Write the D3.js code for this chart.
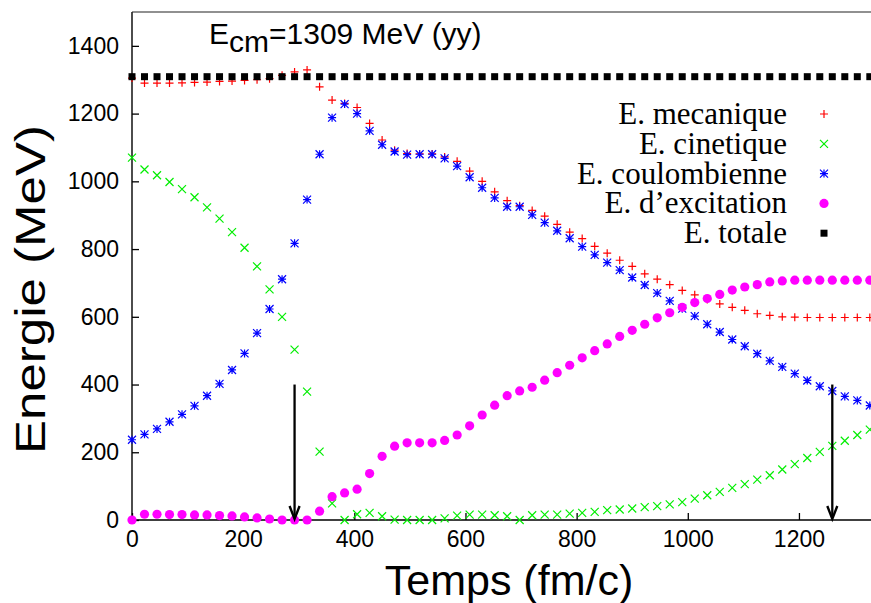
<!DOCTYPE html>
<html>
<head>
<meta charset="utf-8">
<script src="https://cdn.jsdelivr.net/npm/d3@7"></script>
<style>
  html, body { margin: 0; padding: 0; background: #fff; }
  svg { display: block; }
</style>
</head>
<body>
<svg id="chart" width="871" height="603"></svg>
<script>
// ---- data ----
const times = [0,22.5,45,67.5,90,112.5,135,157.5,180,202.5,225,247.5,270,292.5,315,337.5,360,382.5,405,427.5,
  450,472.5,495,517.5,540,562.5,585,607.5,630,652.5,675,697.5,720,742.5,765,787.5,810,832.5,855,877.5,
  900,922.5,945,967.5,990,1012.5,1035,1057.5,1080,1102.5,1125,1147.5,1170,1192.5,1215,1237.5,1260,1282.5,1305,1327.5];

const mecanique = [1305,1290,1290,1290,1291,1292,1293,1295,1296,1298,1300,1303,1313,1323,1329,1279,1240,1230,1218,1171,
  1122,1092,1082,1081,1081,1072,1059,1030,1000,969,943,928,914,897,873,850,831,808,788,767,
  749,727,711,695,678,665,651,638,628,619,609,604,600,599,598,598,598,598,598,598];

const cinetique = [1070,1035,1018,998,977,953,923,890,850,804,749,681,600,503,379,202,49,0,17,21,
  11,1,0,0,0,5,13,16,16,14,11,0,14,16,16,19,21,24,29,31,
  34,38,41,46,53,63,73,83,95,106,119,132,149,165,183,201,219,234,251,267];

const coulombienne = [237,253,269,290,312,337,367,402,443,492,552,623,711,817,946,1080,1188,1228,1200,1149,
  1108,1088,1079,1080,1080,1068,1045,1012,981,951,925,925,901,878,854,832,807,783,760,738,
  716,694,670,647,624,602,578,555,533,513,491,470,452,432,412,395,381,365,353,338];

const excitation = [0,17,17,16,16,15,15,13,12,9,6,3,0,0,0,26,69,80,91,137,
  188,218,228,228,228,235,251,278,310,339,367,381,392,413,435,457,479,500,520,542,
  560,578,597,612,628,642,654,666,679,688,695,703,706,708,708,708,708,708,708,708];

const totale = [1309,1309,1309,1309,1309,1309,1309,1309,1309,1309,1309,1309,1309,1309,1309,1309,1309,1309,1309,1309,
  1309,1309,1309,1309,1309,1309,1309,1309,1309,1309,1309,1309,1309,1309,1309,1309,1309,1309,1309,1309,
  1309,1309,1309,1309,1309,1309,1309,1309,1309,1309,1309,1309,1309,1309,1309,1309,1309,1309,1309,1309];

const seriesNames = ["E. mecanique", "E. cinetique", "E. coulombienne", "E. d\u2019excitation", "E. totale"];
const xTicks = [0, 200, 400, 600, 800, 1000, 1200];
const yTicks = [0, 200, 400, 600, 800, 1000, 1200, 1400];
const arrowTimes = [292.5, 1260];
const arrowTop = 400;

// ---- layout ----
const svg = d3.select("#chart");
const sansFont = "'Liberation Sans', Arial, Helvetica, sans-serif";
const serifFont = "'Liberation Serif', 'Times New Roman', Times, serif";

const x = d3.scaleLinear().domain([0, 1330]).range([132, 871.2]);
const y = d3.scaleLinear().domain([0, 1500]).range([520, 12]);

// axes
const gx = svg.append("g").attr("transform", `translate(0,${y(0)})`)
  .call(d3.axisBottom(x).tickValues(xTicks).tickFormat(d3.format("d"))
    .tickSizeInner(-7).tickSizeOuter(0).tickPadding(11));
const gy = svg.append("g").attr("transform", `translate(${x(0)},0)`)
  .call(d3.axisLeft(y).tickValues(yTicks).tickFormat(d3.format("d"))
    .tickSizeInner(-7).tickSizeOuter(0).tickPadding(13));
[gx, gy].forEach(g => {
  g.select(".domain").remove();
  g.selectAll(".tick line").attr("stroke", "#000").attr("stroke-width", 1.3);
  g.selectAll(".tick text").attr("fill", "#000").style("font-family", sansFont).style("font-size", "23px");
});

// frame lines
svg.append("line").attr("x1", x(0)).attr("x2", x(0)).attr("y1", y(1500)).attr("y2", y(0))
  .attr("stroke", "#000").attr("stroke-width", 1.4);
svg.append("line").attr("x1", x(0)).attr("x2", 871).attr("y1", y(0)).attr("y2", y(0))
  .attr("stroke", "#000").attr("stroke-width", 1.4);
svg.append("line").attr("x1", x(0)).attr("x2", 871).attr("y1", y(1500)).attr("y2", y(1500))
  .attr("stroke", "#222").attr("stroke-width", 1.1);

// axis titles
svg.append("text").attr("x", 509).attr("y", 595).attr("text-anchor", "middle")
  .style("font-family", sansFont).style("font-size", "43px").text("Temps (fm/c)");
svg.append("text").attr("transform", "translate(45,289.5) rotate(-90)").attr("text-anchor", "middle")
  .attr("textLength", 329).attr("lengthAdjust", "spacingAndGlyphs")
  .style("font-family", sansFont).style("font-size", "42px").text("Energie (MeV)");

// title
const title = svg.append("text").attr("x", 209).attr("y", 44)
  .style("font-family", sansFont).style("font-size", "30px");
title.append("tspan").text("E");
title.append("tspan").attr("dy", 8).text("cm");
title.append("tspan").attr("dy", -8).text("=1309 MeV (yy)");

// ---- marker painters ----
const S = 4;
function plus(g, cx, cy, color) {
  g.append("path").attr("d", `M${cx - S},${cy}H${cx + S}M${cx},${cy - S}V${cy + S}`)
    .attr("stroke", color).attr("stroke-width", 1.2).attr("fill", "none");
}
function cross(g, cx, cy, color) {
  g.append("path").attr("d", `M${cx - S},${cy - S}L${cx + S},${cy + S}M${cx - S},${cy + S}L${cx + S},${cy - S}`)
    .attr("stroke", color).attr("stroke-width", 1.2).attr("fill", "none");
}
function star(g, cx, cy, color) {
  g.append("path").attr("d",
    `M${cx - S},${cy}H${cx + S}M${cx},${cy - S}V${cy + S}M${cx - S},${cy - S}L${cx + S},${cy + S}M${cx - S},${cy + S}L${cx + S},${cy - S}`)
    .attr("stroke", color).attr("stroke-width", 1.2).attr("fill", "none");
}
function dot(g, cx, cy, color) {
  g.append("circle").attr("cx", cx).attr("cy", cy).attr("r", 4.6).attr("fill", color);
}
function square(g, cx, cy, color) {
  g.append("rect").attr("x", cx - 3.5).attr("y", cy - 3.5).attr("width", 7).attr("height", 7).attr("fill", color);
}

const series = [
  { name: seriesNames[0], values: mecanique, color: "#ff0000", draw: plus },
  { name: seriesNames[1], values: cinetique, color: "#00ee00", draw: cross },
  { name: seriesNames[2], values: coulombienne, color: "#0000ff", draw: star },
  { name: seriesNames[3], values: excitation, color: "#ff00ff", draw: dot },
  { name: seriesNames[4], values: totale, color: "#000000", draw: square }
];

series.forEach(s => {
  const g = svg.append("g");
  s.values.forEach((v, i) => s.draw(g, x(times[i]), y(v), s.color));
});

// arrows
arrowTimes.forEach(t => {
  const ax = x(t), y0 = y(arrowTop), y1 = y(0);
  svg.append("line").attr("x1", ax).attr("x2", ax).attr("y1", y0).attr("y2", y1 - 2)
    .attr("stroke", "#000").attr("stroke-width", 2.3);
  svg.append("path").attr("d", `M${ax - 5},${y1 - 14}L${ax},${y1 - 1}L${ax + 5},${y1 - 14}`)
    .attr("stroke", "#000").attr("stroke-width", 2.4).attr("fill", "none")
    .attr("stroke-linejoin", "miter");
});

// legend
const legend = svg.append("g");
series.forEach((s, i) => {
  const by = 124 + i * 29.8;
  legend.append("text").attr("x", 787).attr("y", by).attr("text-anchor", "end")
    .style("font-family", serifFont).style("font-size", "31px").text(s.name);
  s.draw(legend, 824, by - 10, s.color);
});
</script>
</body>
</html>
